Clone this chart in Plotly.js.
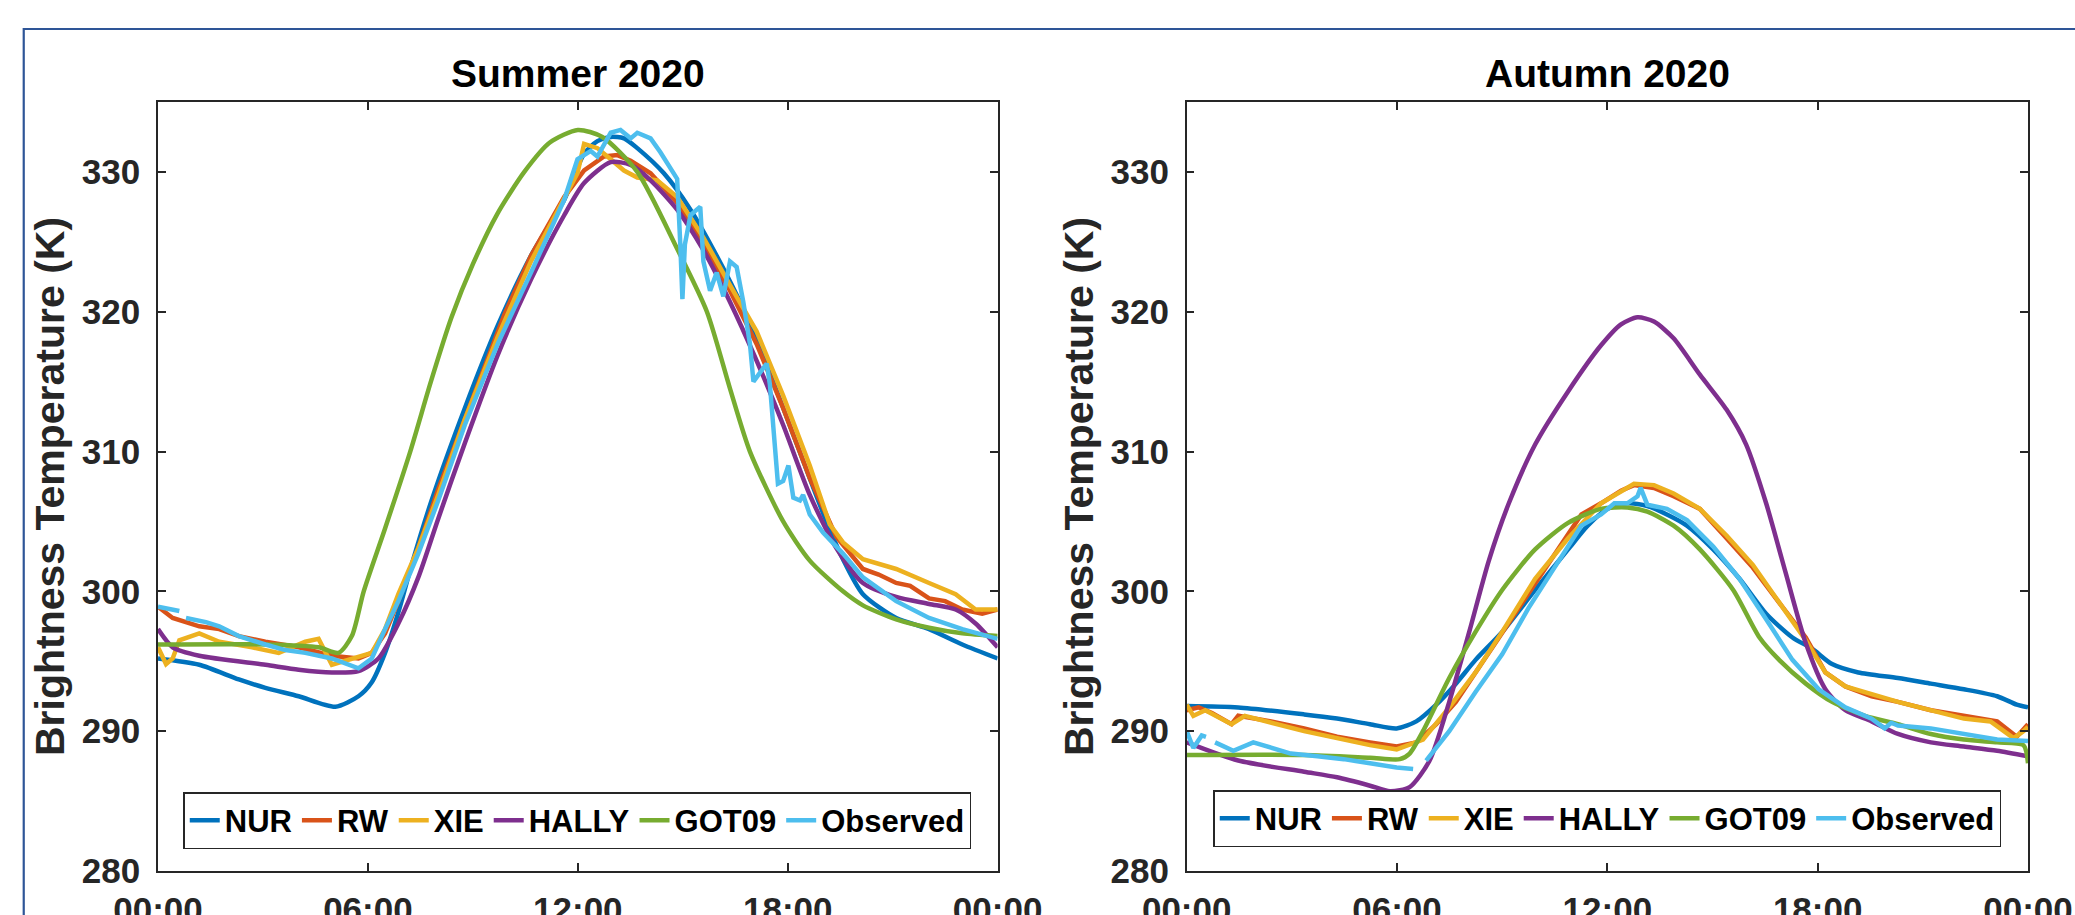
<!DOCTYPE html>
<html><head><meta charset="utf-8">
<script src="https://cdn.plot.ly/plotly-3.0.1.min.js"></script>
<style>html,body{margin:0;padding:0;background:#fff}#chart{width:2075px;height:915px}</style>
</head><body><div id="chart"></div>
<script>
// ---------- categories / labels ----------
const seriesNames = ['NUR', 'RW', 'XIE', 'HALLY', 'GOT09', 'Observed'];
const seriesColors = ['#0072BD', '#D95319', '#EDB120', '#7E2F8E', '#77AC30', '#4DBEEE'];
const panelTitles = ['Summer 2020', 'Autumn 2020'];
const xTickVals = [0, 6, 12, 18, 24];
const xTickText = ['00:00', '06:00', '12:00', '18:00', '00:00'];
const yTickVals = [280, 290, 300, 310, 320, 330];
const yTitle = 'Brightness Temperature (K)';

// ---------- Summer 2020 (hours of day, K) ----------
const sNUR_h = [0,1.18,2.31,3.07,4.02,5.07,5.73,6.11,6.49,6.87,7.25,7.82,8.77,9.71,10.66,11.61,12.18,12.56,12.94,13.32,13.70,14.46,15.22,15.97,16.73,17.49,18.25,19.01,19.58,20.15,21.10,22.04,22.99,24];
const sNUR_v = [295.2,294.75,293.7,293.1,292.5,291.75,292.5,293.5,295.6,298.5,301.9,306.5,313.1,319,324,328,331.3,332.2,332.5,332.4,331.7,329.9,327.3,324,320.2,315.6,310.6,305.6,302.3,299.8,298.1,297.3,296.2,295.2];

const sRW_h = [0,0.42,1.18,1.75,2.31,3.07,4.02,4.97,5.73,6.11,6.49,6.87,7.44,8.01,8.77,9.90,10.66,11.61,12.18,12.75,13.13,13.51,14.08,14.84,15.59,16.35,17.11,17.87,18.63,19.39,20.15,20.6,21.10,21.5,22.04,22.5,22.99,23.56,24];
const sRW_v = [298.9,298.1,297.5,297.3,296.8,296.4,296,295.4,295.2,295.6,297,299.3,303.1,307.3,312.3,319.8,324,328.2,330.1,331.1,331.2,330.8,329.9,327.8,324.8,321.5,317.7,313.1,308.1,303.9,301.6,301.2,300.6,300.4,299.5,299.3,298.7,298.4,298.7];

const sXIE_h = [0,0.23,0.42,0.61,1.18,1.75,2.69,3.45,4.21,4.59,4.97,5.54,6.11,6.49,6.87,7.44,8.01,8.77,9.71,10.66,11.61,11.99,12.18,12.56,12.94,13.32,13.70,14.27,14.84,15.59,16.35,17.11,17.87,18.63,19.20,19.58,20.15,21.10,22.04,22.80,23.37,24];
const sXIE_v = [296,294.8,295.2,296.5,297,296.4,296,295.6,296.4,296.6,294.75,295.2,295.6,297.3,299.8,303.1,306.9,312.3,318.2,323.6,328,329.9,332,331.7,330.9,330.1,329.6,329.4,328.2,325.3,321.9,318.6,314,309,304.8,303.5,302.3,301.6,300.6,299.8,298.7,298.7];

const sHALLY_h = [0,0.42,1.18,3.07,4.02,4.97,5.73,6.30,6.87,7.44,8.01,8.77,9.71,10.66,11.61,12.18,12.94,13.51,14.08,14.84,15.59,16.35,17.11,17.87,18.63,19.39,20.15,21.10,22.04,22.80,23.37,24];
const sHALLY_v = [297.3,296,295.4,294.75,294.4,294.2,294.3,295.2,297.7,301,305.2,310.6,316.9,322.3,326.9,329.2,330.7,330.5,329.4,327.3,324.4,320.7,316.5,311.9,306.9,303.1,300.6,299.6,299.1,298.7,297.7,296];

const sGOT_h = [0,3.07,4.59,5.16,5.54,5.88,6.49,7.21,7.8,8.39,9.0,9.7,10.47,11.2,12.0,12.7,13.7,14.84,15.69,16.35,16.92,17.87,18.63,19.58,20.15,21.10,22.04,22.99,24];
const sGOT_v = [296.2,296.2,296,295.6,296.8,300,304.5,310,315,319.6,323.4,327,330,332.1,333,332.5,330,324.5,320,314.5,310,305,302.2,300,299,298,297.4,297,296.8];

const sOBS_h = [0,0.61,null,0.80,1.37,1.75,2.31,3.07,3.64,4.21,4.97,5.73,6.11,6.49,6.87,7.44,8.01,8.77,9.71,10.66,11.61,11.99,12.37,12.56,12.94,13.22,13.51,13.70,14.08,14.36,14.55,14.74,14.84,14.93,14.99,15.06,15.22,15.40,15.50,15.59,15.78,15.97,16.16,16.35,16.54,16.73,16.92,17.02,17.21,17.40,17.49,17.59,17.72,17.87,18.02,18.16,18.35,18.44,18.63,19.01,19.58,20.15,21.10,22.04,22.99,24];
const sOBS_v = [298.9,298.6,null,298.1,297.8,297.5,296.8,296.2,295.8,295.6,295.2,294.5,295.2,297.3,299.3,302.7,306.5,311.9,317.7,322.8,328,330.9,331.5,331.1,332.8,333,332.4,332.8,332.4,331.4,330.7,329.9,329.5,324.8,320.9,324.8,326.9,327.3,327.5,323.6,321.5,322.8,321.1,323.6,323.2,320.7,317.7,315,315.6,316.3,314.8,311.7,307.7,307.9,309,306.7,306.5,306.9,305.5,304.2,302.7,301,299.3,298.1,297.3,296.6];

// ---------- Autumn 2020 (hours of day, K) ----------
const aNUR_h = [0,1.47,3.35,4.29,5.23,5.99,6.55,7.12,7.68,8.24,9.00,9.94,10.88,11.44,12.01,12.57,13.14,13.70,14.27,15.02,15.77,16.53,17.28,17.84,18.41,19.16,20.29,21.23,22.17,23.12,23.68,24];
const aNUR_v = [291.8,291.7,291.2,290.9,290.5,290.2,290.7,291.9,293.4,295.1,297.1,300.1,303,304.7,305.9,306.3,306.1,305.5,304.7,303,300.9,298.4,296.7,295.9,294.8,294.2,293.8,293.4,293,292.5,291.9,291.7];

const aRW_h = [0,0.34,0.72,1.28,1.47,2.41,3.35,4.29,5.23,5.99,6.55,7.12,7.68,8.24,9.00,9.94,10.50,11.26,11.82,12.39,12.76,13.33,13.89,14.64,15.40,16.15,16.90,17.66,18.22,18.79,19.54,20.29,21.23,22.17,23.12,23.68,24];
const aRW_v = [291.5,291.7,291.3,290.5,291.1,290.7,290.2,289.6,289.2,288.9,289.2,290.5,292.1,294.2,297.1,300.5,302.6,305.5,306.3,307.2,307.6,307.4,306.8,305.9,303.8,301.7,299.2,296.7,294.2,293.2,292.5,292.1,291.5,291.1,290.7,289.6,290.5];

const aXIE_h = [0,0.19,0.53,1.28,1.66,3.35,5.23,5.99,6.74,7.49,8.24,9.00,9.94,10.88,11.82,12.39,12.76,13.33,13.89,14.64,15.40,16.15,16.90,17.66,18.22,18.79,20.29,21.23,22.17,22.93,23.59,23.87,24];
const aXIE_v = [291.9,291.1,291.5,290.5,291.1,290.0,289.0,288.7,289.4,291.7,294.2,297.1,300.9,303.8,306.3,307.2,307.7,307.6,307.0,305.9,304.0,301.9,299.2,296.5,294.2,293.2,292.1,291.5,290.9,290.7,289.5,290.0,290.3];

const aHALLY_h = [0,1.47,3.35,4.29,5.23,5.80,6.36,6.93,7.49,8.06,8.62,9.19,9.94,10.88,11.82,12.39,12.86,13.33,13.89,14.64,15.40,15.96,16.53,17.09,17.66,18.22,18.79,19.54,20.29,21.23,22.17,23.12,24];
const aHALLY_v = [289.2,287.9,287.1,286.7,286.1,285.7,286.0,287.9,292.1,297.1,302.2,306.3,310.5,314.3,317.6,319.1,319.6,319.3,318.1,315.5,313,310.5,306.3,301.3,296.3,293,291.5,290.7,289.8,289.2,288.9,288.6,288.2];

const aGOT_h = [0,3.35,5.23,6.08,6.36,6.74,7.49,8.24,9.00,9.94,10.88,11.82,12.57,13.14,13.89,14.64,15.59,16.34,16.90,17.66,18.41,19.35,20.29,21.23,22.17,23.12,23.87,24];
const aGOT_v = [288.3,288.3,288.1,288,288.4,290,293.8,297.1,300.1,303,304.9,305.9,306,305.7,304.7,303,300.1,296.7,295.1,293.4,292.1,291.1,290.5,289.8,289.4,289.2,289,287.7];

const aOBS_h = [0,0.19,0.43,0.55,null,0.81,1.33,1.9,2.28,2.97,3.73,4.48,5.23,5.99,6.46,null,6.83,7.49,8.24,9.00,9.75,10.50,11.26,11.82,12.20,12.57,12.86,12.95,13.14,13.70,14.27,15.02,15.77,16.53,17.28,18.03,18.79,19.54,19.91,20.10,20.29,21.23,22.17,23.12,24];
const aOBS_v = [290.0,288.8,289.7,289.6,null,289.2,288.6,289.2,288.9,288.4,288.2,288.0,287.7,287.4,287.3,null,287.9,290.0,292.8,295.5,298.8,301.7,304.7,305.5,306.3,306.3,306.8,307.4,306.2,305.9,305.1,303.2,300.9,298.0,295.1,293.0,291.7,290.9,290.2,290.6,290.4,290.2,289.8,289.4,289.3];

// ---------- build traces ----------
const FONT = 'Liberation Sans, Arial, Helvetica, sans-serif';
const summer = [[sNUR_h,sNUR_v],[sRW_h,sRW_v],[sXIE_h,sXIE_v],[sHALLY_h,sHALLY_v],[sGOT_h,sGOT_v],[sOBS_h,sOBS_v]];
const autumn = [[aNUR_h,aNUR_v],[aRW_h,aRW_v],[aXIE_h,aXIE_v],[aHALLY_h,aHALLY_v],[aGOT_h,aGOT_v],[aOBS_h,aOBS_v]];
const smooth = [true, false, false, true, true, false];

const traces = [];
[summer, autumn].forEach((panel, p) => {
  panel.forEach((s, i) => {
    traces.push({
      type: 'scatter', mode: 'lines',
      x: s[0], y: s[1],
      name: seriesNames[i],
      xaxis: p === 0 ? 'x' : 'x2',
      yaxis: p === 0 ? 'y' : 'y2',
      legend: p === 0 ? 'legend' : 'legend2',
      line: { color: seriesColors[i], width: 4.5, shape: smooth[i] ? 'spline' : 'linear', smoothing: 0.7 },
      connectgaps: false,
      hoverinfo: 'x+y+name'
    });
  });
});

function xAxis(domain, anchor) {
  return {
    domain: domain, anchor: anchor, range: [0, 24],
    tickmode: 'array', tickvals: xTickVals, ticktext: xTickText,
    ticks: 'inside', ticklen: 8, tickwidth: 1.5, tickcolor: '#262626',
    showline: true, linecolor: '#262626', linewidth: 1.5, mirror: 'ticks',
    showgrid: false, zeroline: false, automargin: false,
    ticklabelstandoff: 7,
    tickfont: { family: FONT, size: 35, color: '#262626', weight: 'bold' }
  };
}
function yAxis(anchor) {
  return {
    anchor: anchor, domain: [0, 1], range: [280, 335],
    tickmode: 'array', tickvals: yTickVals,
    ticks: 'inside', ticklen: 8, tickwidth: 1.5, tickcolor: '#262626',
    showline: true, linecolor: '#262626', linewidth: 1.5, mirror: 'ticks',
    showgrid: false, zeroline: false, automargin: false,
    ticklabelstandoff: 9,
    tickfont: { family: FONT, size: 35, color: '#262626', weight: 'bold' },
    title: { text: yTitle, standoff: 4, font: { family: FONT, size: 41, color: '#262626', weight: 'bold' } }
  };
}
function legendCfg(x, y) {
  return {
    x: x, y: y, xanchor: 'center', yanchor: 'bottom', orientation: 'h',
    bgcolor: '#ffffff', bordercolor: '#262626', borderwidth: 1.5,
    font: { family: FONT, size: 31, color: '#000000', weight: 'bold' },
    itemwidth: 30, traceorder: 'normal'
  };
}

const layout = {
  width: 2075, height: 915,
  margin: { l: 158, r: 47, t: 102, b: 44 },
  paper_bgcolor: '#ffffff', plot_bgcolor: '#ffffff',
  showlegend: true,
  font: { family: FONT, color: '#262626' },
  xaxis: xAxis([0, 0.449], 'y'),
  yaxis: yAxis('x'),
  xaxis2: xAxis([0.5501, 1], 'y2'),
  yaxis2: yAxis('x2'),
  legend: legendCfg(0.2242, 0.0286),
  legend2: legendCfg(0.775, 0.0312),
  annotations: panelTitles.map((t, i) => ({
    text: t, xref: i === 0 ? 'x domain' : 'x2 domain', x: 0.5, yref: 'paper', y: 1.037,
    xanchor: 'center', yanchor: 'middle', showarrow: false,
    font: { family: FONT, size: 39, color: '#000000', weight: 'bold' }
  })),
  shapes: [{
    type: 'rect', xref: 'paper', yref: 'paper',
    x0: -0.0718, x1: 1.3, y0: -0.3, y1: 1.0949,
    line: { color: '#2E5597', width: 2.2 }, fillcolor: 'rgba(0,0,0,0)', layer: 'above'
  }]
};

Plotly.newPlot('chart', traces, layout, { displayModeBar: false, staticPlot: false });
</script></body></html>
